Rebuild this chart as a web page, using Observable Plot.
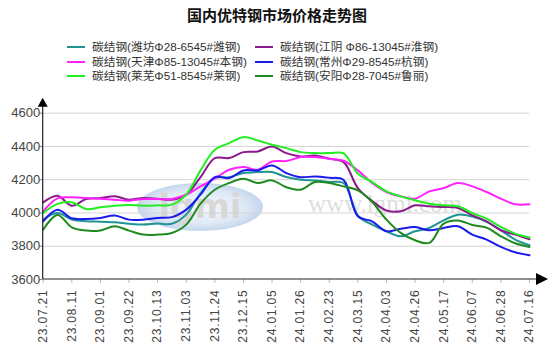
<!DOCTYPE html>
<html><head><meta charset="utf-8">
<script src="https://cdn.jsdelivr.net/npm/d3@7"></script>
<script src="https://cdn.jsdelivr.net/npm/@observablehq/plot@0.6"></script>
<style>
body{margin:0;background:#fff;}
#wrap{position:relative;width:554px;height:358px;overflow:hidden;font-family:"Liberation Sans","Noto Sans CJK SC",sans-serif;background:#fff;}
#head{position:relative;height:90px;}
#title{position:absolute;left:0;width:554px;top:5px;text-align:center;font-weight:bold;font-size:15px;font-family:"Noto Sans CJK SC",sans-serif;color:#111;line-height:20px;}
.lg{position:absolute;font-size:11.7px;color:#333;white-space:nowrap;line-height:14px;font-family:"Liberation Sans","Noto Sans CJK SC",sans-serif;}
.lg i{display:inline-block;width:18px;height:2px;vertical-align:middle;margin-right:7px;position:relative;top:-1px;}
#chart svg g[aria-label="x-axis tick label"] text{letter-spacing:0.8px;}
</style></head>
<body><div id="wrap"><div id="head"><div id="title">国内优特钢市场价格走势图</div></div><div id="chart"></div></div>
<script>
const xLabels = ["23.07.21","23.08.11","23.09.01","23.09.22","23.10.13","23.11.03","23.11.24","23.12.15","24.01.05","24.01.26","24.02.23","24.03.15","24.04.03","24.04.26","24.05.17","24.06.07","24.06.28","24.07.16"];
const yTicks = [3600,3800,4000,4200,4400,4600];

const names = ["碳结钢(潍坊Φ28-6545#潍钢)","碳结钢(江阴 Φ86-13045#淮钢)","碳结钢(天津Φ85-13045#本钢)","碳结钢(常州Φ29-8545#杭钢)","碳结钢(莱芜Φ51-8545#莱钢)","碳结钢(安阳Φ28-7045#鲁丽)"];
const colors = ["#1e9494","#8b1a8b","#ff22ff","#1a1aee","#22ee22","#1f8a1f"];

const weifang = [3960,4000,3960,3950,3948,3944,3935,3930,3936,3935,3990,4120,4210,4215,4240,4246,4246,4216,4200,4196,4186,4180,3985,3930,3890,3860,3890,3910,3956,3990,3978,3946,3896,3840,3806];
const jiangyin = [4064,4104,4044,4084,4090,4100,4080,4090,4086,4080,4110,4216,4330,4330,4366,4370,4400,4360,4340,4346,4326,4306,4150,4072,4015,4010,4046,4040,4036,4030,3986,3950,3896,3870,3842];
const tianjin = [4010,4088,4094,4090,4085,4080,4074,4084,4084,4084,4110,4160,4206,4260,4276,4260,4310,4312,4336,4336,4326,4314,4256,4180,4126,4100,4086,4130,4150,4180,4160,4126,4086,4052,4052];
const changzhou = [3950,4020,3968,3964,3970,3985,3960,3960,3970,3975,4020,4110,4216,4210,4256,4256,4286,4240,4215,4220,4212,4198,3980,3950,3890,3905,3915,3896,3910,3920,3870,3840,3796,3764,3746];
const laiwu = [4000,4055,4064,4024,4034,4044,4048,4044,4046,4050,4110,4256,4380,4420,4456,4436,4410,4390,4366,4360,4360,4358,4236,4186,4130,4100,4076,4056,4046,4040,4000,3966,3916,3876,3852];
const anyang = [3900,3988,3914,3894,3895,3920,3894,3870,3870,3880,3930,4056,4140,4180,4206,4180,4196,4155,4140,4186,4180,4160,4136,4066,3960,3880,3836,3820,3936,3955,3928,3912,3860,3818,3796];

const seriesValues = [weifang, jiangyin, tianjin, changzhou, laiwu, anyang];
const data = [];
seriesValues.forEach((vals, s) => vals.forEach((v, i) => data.push({i, v, s: names[s]})));

// legend
const head = document.getElementById("head");
const legendPos = [[67,40],[255,40],[67,55],[255,55],[67,69],[255,69]];
names.forEach((n, k) => {
  const d = document.createElement("div");
  d.className = "lg";
  d.style.left = legendPos[k][0] + "px";
  d.style.top = legendPos[k][1] + "px";
  d.innerHTML = `<i style="background:${colors[k]}"></i>${n}`;
  head.appendChild(d);
});

const lastI = weifang.length - 1;
const tickIdx = xLabels.map((_, k) => k * 2);

const plot = Plot.plot({
  width: 554, height: 268,
  marginTop: 22.7, marginBottom: 79, marginLeft: 42.7, marginRight: 25,
  style: {background: "transparent", fontFamily: "Liberation Sans, Arial, sans-serif"},
  x: {domain: [0, lastI], axis: null},
  y: {domain: [3600, 4600], axis: null},
  color: {domain: names, range: colors},
  marks: [
    Plot.gridY(yTicks.filter(v => v > 3600), {stroke: "#d4d4d4", strokeOpacity: 1}),
    Plot.axisY({ticks: yTicks, tickFormat: d => String(d), label: null, tickSize: 3, tickPadding: 0, fontSize: 13, fill: "#444", stroke: "#888"}),
    Plot.axisX({ticks: tickIdx, tickFormat: i => xLabels[i / 2], label: null, tickRotate: -90, tickSize: 4, tickPadding: 6, fontSize: 12, fill: "#444", stroke: "#bbb"}),
    Plot.line(data, {x: "i", y: "v", stroke: "s", z: "s", curve: "catmull-rom", strokeWidth: 2})
  ]
});
document.getElementById("chart").appendChild(plot);

// watermark, axis lines and arrowheads
const svg = d3.select(plot);
const xs = plot.scale("x"), ys = plot.scale("y");
const x0 = xs.apply(0), x1 = xs.apply(lastI), yb = ys.apply(3600), yt = ys.apply(4600);

const wm = svg.insert("g", ":first-child").attr("opacity", 0.45);
const defs = svg.insert("defs", ":first-child");
const grad = defs.append("radialGradient").attr("id", "wmg");
grad.append("stop").attr("offset", "0%").attr("stop-color", "#eef4fb");
grad.append("stop").attr("offset", "70%").attr("stop-color", "#b9d0ec");
grad.append("stop").attr("offset", "100%").attr("stop-color", "#7fa6d8");
wm.append("ellipse").attr("cx", 200).attr("cy", 117).attr("rx", 63).attr("ry", 24).attr("fill", "url(#wmg)");
wm.append("text").attr("x", 200).attr("y", 128).attr("text-anchor", "middle")
  .attr("font-family", "DejaVu Sans, sans-serif").attr("font-weight", "bold").attr("font-size", 34)
  .attr("fill", "#a8a8a8").text("lgmi");
wm.append("text").attr("x", 385).attr("y", 122).attr("text-anchor", "middle")
  .attr("font-family", "Liberation Serif, DejaVu Serif, serif").attr("font-size", 25)
  .attr("fill", "#b8b8b8").text("www.lgmi.com");

svg.append("line").attr("x1", x0).attr("x2", x0).attr("y1", yb).attr("y2", yt - 12).attr("stroke", "#222").attr("stroke-width", 1.2);
svg.append("line").attr("x1", x0).attr("x2", x1 + 10).attr("y1", yb).attr("y2", yb).attr("stroke", "#222").attr("stroke-width", 1.2);
svg.append("path").attr("d", `M${x0},${yt - 15}L${x0 - 5},${yt - 6}L${x0 + 5},${yt - 6}Z`).attr("fill", "#000");
svg.append("path").attr("d", `M${x1 + 19},${yb}L${x1 + 7},${yb - 6}L${x1 + 7},${yb + 6}Z`).attr("fill", "#000");
</script></body></html>
